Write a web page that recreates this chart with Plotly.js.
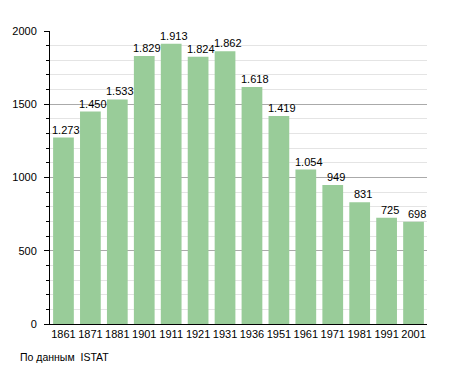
<!DOCTYPE html>
<html><head><meta charset="utf-8">
<script src="https://cdn.plot.ly/plotly-3.0.1.min.js"></script>
<style>html,body{margin:0;padding:0;background:#fff}#c{width:455px;height:373px}</style>
</head><body><div id="c"></div>
<script>
const years = ['1861','1871','1881','1901','1911','1921','1931','1936','1951','1961','1971','1981','1991','2001'];
const population = [1273,1450,1533,1829,1913,1824,1862,1618,1419,1054,949,831,725,698];
const sourceNote = 'По данным  ISTAT';

const fmt = v => String(v).replace(/\B(?=(\d{3})+(?!\d))/g, '.');

const L = 50, R = 28, T = 31, B = 49, W = 455, H = 373;
const pw = W - L - R, ph = H - T - B;
const FONT = 'Liberation Sans, Arial, sans-serif';

const annotations = years.map((y, i) => ({
  x: i, y: population[i], xref: 'x', yref: 'y',
  text: fmt(population[i]), showarrow: false,
  xanchor: 'center', yanchor: 'bottom', xshift: 3, yshift: 0,
  font: {family: FONT, size: 11, color: '#000'}
}));
annotations.push({
  x: (18 - L) / pw, y: (H - B - 357) / ph, xref: 'paper', yref: 'paper',
  text: sourceNote, showarrow: false, xanchor: 'left', yanchor: 'middle',
  font: {family: FONT, size: 10.5, color: '#000'}
});

Plotly.newPlot('c', [{
  type: 'bar', x: years, y: population,
  marker: {color: '#99cc99', line: {width: 0}},
  hoverinfo: 'none'
}], {
  width: W, height: H,
  margin: {l: L, r: R, t: T, b: B, pad: 0},
  paper_bgcolor: '#fff', plot_bgcolor: '#fff',
  bargap: 0.23,
  showlegend: false,
  font: {family: FONT, size: 11, color: '#000'},
  xaxis: {
    type: 'category', range: [-0.5, years.length - 0.5], autorange: false,
    showline: true, linecolor: '#000', linewidth: 1,
    ticks: '', showgrid: false, tickfont: {size: 11}, fixedrange: true
  },
  yaxis: {
    range: [0, 2000], autorange: false, dtick: 500, tick0: 0, showline: true, linecolor: '#000', linewidth: 1,
    ticks: 'outside', ticklen: 5, tickcolor: '#000', tickwidth: 1,
    gridcolor: '#aaaaaa', gridwidth: 1, zeroline: false,
    tickfont: {size: 11}, ticklabelstandoff: 5,
    minor: {dtick: 100, ticks: 'outside', ticklen: 3, tickcolor: '#000', showgrid: true, gridcolor: '#e4e4e4', gridwidth: 1},
    fixedrange: true
  },
  annotations: annotations
}, {staticPlot: true});
</script></body></html>
